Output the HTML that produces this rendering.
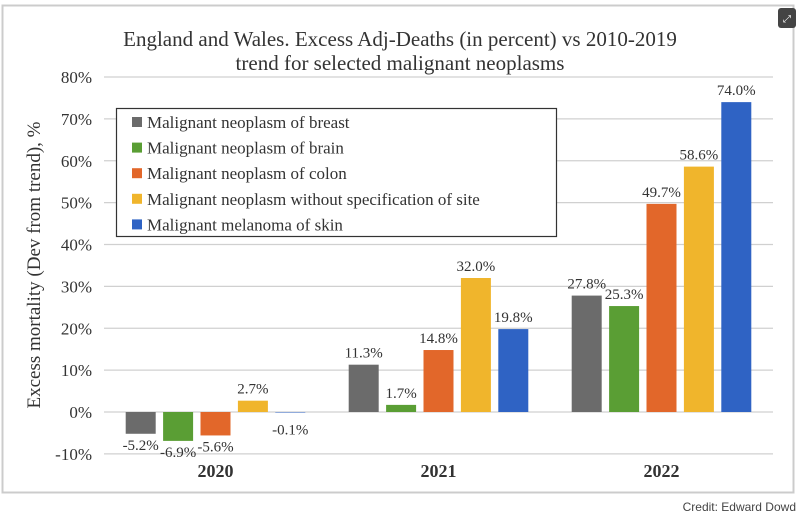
<!DOCTYPE html>
<html><head><meta charset="utf-8"><style>
body{margin:0;background:#fff;}
svg text{font-family:"Liberation Serif",serif;fill:#333;}
</style></head><body>
<svg width="799" height="517" xmlns="http://www.w3.org/2000/svg">
<rect x="2.5" y="5.5" width="791" height="487" fill="#fff" stroke="#ccc" stroke-width="2"/>
<g><rect x="778" y="8" width="18" height="20" rx="3" fill="#444"/><text x="787" y="22" font-size="10" text-anchor="middle" style="fill:#fff;font-family:'DejaVu Sans',sans-serif">⤢</text></g>
<text x="400" y="46" font-size="21" text-anchor="middle">England and Wales. Excess Adj-Deaths (in percent) vs 2010-2019</text>
<text x="400" y="70" font-size="21" text-anchor="middle">trend for selected malignant neoplasms</text>
<text transform="translate(40,265) rotate(-90)" font-size="19" text-anchor="middle">Excess mortality (Dev from trend), %</text>
<g id="grid"></g><g id="bars"></g>
<g>
<rect x="116.5" y="108.5" width="440" height="128" fill="#fff" stroke="#333" stroke-width="1.2"/>
<g id="legend"></g></g>
<text x="796" y="511" font-size="12" text-anchor="end" style="font-family:'Liberation Sans',sans-serif;fill:#444">Credit: Edward Dowd</text>
</svg>
<script>
const categories=["2020","2021","2022"];
const seriesNames=["Malignant neoplasm of breast","Malignant neoplasm of brain","Malignant neoplasm of colon","Malignant neoplasm without specification of site","Malignant melanoma of skin"];
const colors=["#6b6b6b","#5a9e34","#e2672a","#f0b52c","#2f63c4"];
const breast=[-5.2,11.3,27.8];
const brain=[-6.9,1.7,25.3];
const colon=[-5.6,14.8,49.7];
const unspecified=[2.7,32.0,58.6];
const melanoma=[-0.1,19.8,74.0];
const series=[breast,brain,colon,unspecified,melanoma];
const yTicks=[-10,0,10,20,30,40,50,60,70,80];
const NS="http://www.w3.org/2000/svg";
const x0=104,x1=773,yTop=77,yBot=454;
const y=v=>412-(v)*(412-77)/80;
const groupW=(x1-x0)/categories.length;
const bw=30,step=37.4;
function mk(t,a,p){const e=document.createElementNS(NS,t);for(const k in a)e.setAttribute(k,a[k]);p.appendChild(e);return e;}
const grid=document.getElementById('grid');
yTicks.forEach(t=>{
 const l=mk('line',{x1:x0,x2:x1,y1:y(t),y2:y(t),stroke:'#d0d0d0','stroke-width':1.2},grid);
 
 
 const tx=mk('text',{x:92,y:y(t)+6,'font-size':17,'text-anchor':'end'},grid);tx.textContent=t+'%';
 
 
});
const bars=document.getElementById('bars');
categories.forEach((c,i)=>{
 const cx=x0+groupW*(i+0.5);
 const ct=mk('text',{x:cx,y:477,'font-size':18,'font-weight':'bold','text-anchor':'middle'},bars);ct.textContent=c;
 
 
 series.forEach((s,j)=>{
  const v=s[i];const bx=cx+(j-2)*step-bw/2;
  const top=Math.min(y(v),y(0)),h=Math.max(Math.abs(y(v)-y(0)),0.5);
  const r=mk('rect',{x:bx,y:top,width:bw,height:h,fill:colors[j]},bars);
  
  
  const ly=v>=0?y(v)-7:(v<-1?y(v)+16:y(v)+22);
  const t=mk('text',{x:bx+bw/2,y:ly,'font-size':15,'text-anchor':'middle'},bars);t.textContent=v.toFixed(1)+'%';
  
  
 });
});
const lg=document.getElementById('legend');
seriesNames.forEach((n,j)=>{
 const yy=122+j*25.6;
 const sw=mk('rect',{x:132,y:yy-5,width:10,height:10,fill:colors[j]},lg);
 
 
 const t=mk('text',{x:147,y:yy+6,'font-size':17},lg);t.textContent=n;
 
 
});
</script>
</body></html>
